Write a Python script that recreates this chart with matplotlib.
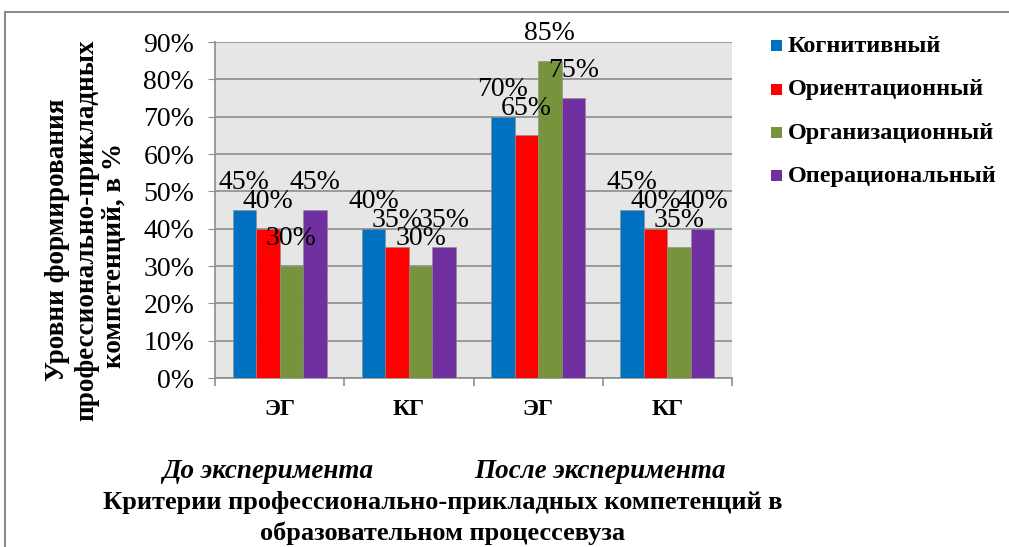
import matplotlib
matplotlib.use("Agg")
import matplotlib.pyplot as plt
from matplotlib.patches import Rectangle
import numpy as np

categories = ["ЭГ", "КГ", "ЭГ", "КГ"]
series_names = ["Когнитивный", "Ориентационный", "Организационный", "Операциональный"]
kognitivny = [45, 40, 70, 45]
orientatsionny = [40, 35, 65, 40]
organizatsionny = [30, 30, 85, 35]
operatsionalny = [45, 35, 75, 40]
series_values = [kognitivny, orientatsionny, organizatsionny, operatsionalny]
colors = ["#0070C0", "#FF0000", "#77933C", "#7030A0"]
yticks = [0, 10, 20, 30, 40, 50, 60, 70, 80, 90]
group_labels = ["До эксперимента", "После эксперимента"]

serif = ["Liberation Serif", "DejaVu Serif"]
plt.rcParams["font.family"] = serif

W, H = 1009, 547
fig = plt.figure(figsize=(W / 100, H / 100), dpi=100)
fig.patch.set_facecolor("white")

# chart border
fig.add_artist(Rectangle((5 / W, -0.1), 1.2, 1 - 12 / H + 0.1, transform=fig.transFigure,
                         fill=False, edgecolor="#8C8C8C", linewidth=1.5))

ax = fig.add_axes([215 / W, 1 - 378 / H, (732 - 215) / W, (378 - 42) / H])
ax.set_facecolor("#E6E6E6")

x = np.arange(len(categories))
bw = 0.182
for i, (vals, c) in enumerate(zip(series_values, colors)):
    xs = x + (i - 1.5) * bw
    ax.bar(xs, vals, width=bw, color=c, edgecolor="#8C8C8C", linewidth=0.4,
           label=series_names[i], zorder=3)
    for xi, v in zip(xs, vals):
        ax.annotate(f"{v}%", (xi, v), xytext=(0, 19.5), textcoords="offset points",
                    ha="center", va="center", fontsize=20, color="black",
                    family=serif, zorder=5, annotation_clip=False)

ax.set_xlim(-0.5, 3.5)
ax.set_ylim(0, 90)
ax.set_yticks(yticks)
ax.set_yticklabels([f"{t}%" for t in yticks], fontsize=20)
ax.yaxis.grid(True, color="#8C8C8C", linewidth=1.2, zorder=0)
ax.set_axisbelow(True)
ax.tick_params(axis="y", length=5, color="#8C8C8C", pad=10)

ax.set_xticks(x)
ax.set_xticklabels(categories, fontsize=17, fontweight="bold")
ax.set_xticks(np.arange(-0.5, 4.0, 1.0), minor=True)
ax.tick_params(axis="x", which="major", length=0, pad=15)
ax.tick_params(axis="x", which="minor", length=6, color="#8C8C8C", width=1.2)

for s in ["top", "right"]:
    ax.spines[s].set_visible(False)
for s in ["left", "bottom"]:
    ax.spines[s].set_color("#8C8C8C")
    ax.spines[s].set_linewidth(1.2)

# y axis title lines
fig.text(57 / W, 1 - 240 / H, "Уровни формирования", rotation=90, ha="center", va="center",
         fontsize=19.5, fontweight="bold")
fig.text(87 / W, 1 - 230 / H, "профессионально-прикладных", rotation=90, ha="center", va="center",
         fontsize=19.5, fontweight="bold")
fig.text(115 / W, 1 - 255 / H, "компетенций, в %", rotation=90, ha="center", va="center",
         fontsize=19.5, fontweight="bold")

# group labels and x title
fig.text(268 / W, 1 - 471 / H, group_labels[0], ha="center", va="center", fontsize=19.5,
         fontweight="bold", style="italic")
fig.text(600 / W, 1 - 471 / H, group_labels[1], ha="center", va="center", fontsize=19.5,
         fontweight="bold", style="italic")
fig.text(443 / W, 1 - 503 / H, "Критерии профессионально-прикладных компетенций в",
         ha="center", va="center", fontsize=19, fontweight="bold")
fig.text(443 / W, 1 - 533 / H, "образовательном процессевуза",
         ha="center", va="center", fontsize=19, fontweight="bold")

# legend
leg_y = [46, 90, 133, 176]
for name, c, yy in zip(series_names, colors, leg_y):
    fig.add_artist(Rectangle((771 / W, 1 - (yy + 5) / H), 11 / W, 11 / H,
                             transform=fig.transFigure, facecolor=c, edgecolor="none"))
    fig.text(788 / W, 1 - yy / H, name, ha="left", va="center", fontsize=17.5, fontweight="bold")

fig.savefig("out.png", dpi=100)
